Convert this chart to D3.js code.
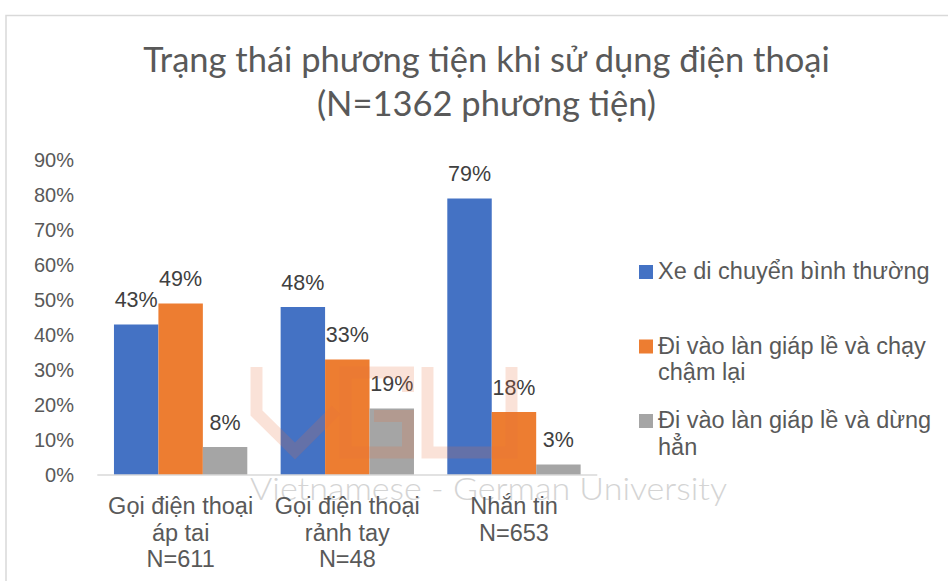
<!DOCTYPE html>
<html>
<head>
<meta charset="utf-8">
<script src="https://cdn.jsdelivr.net/npm/d3@7"></script>
<style>
  html, body { margin: 0; padding: 0; background: #fff; }
  svg { display: block; }
</style>
</head>
<body>
<svg id="chart" width="948" height="581"></svg>
<script>
// ---- data ----
const titleLines = ["Trạng thái phương tiện khi sử dụng điện thoại", "(N=1362 phương tiện)"];
const categories = ["Gọi điện thoại áp tai", "Gọi điện thoại rảnh tay", "Nhắn tin"];
const categoryLabels = [
  ["Gọi điện thoại", "áp tai", "N=611"],
  ["Gọi điện thoại", "rảnh tay", "N=48"],
  ["Nhắn tin", "N=653"]
];
const seriesNames = ["Xe di chuyển bình thường", "Đi vào làn giáp lề và chạy chậm lại", "Đi vào làn giáp lề và dừng hẳn"];
const legendLines = [
  ["Xe di chuyển bình thường"],
  ["Đi vào làn giáp lề và chạy", "chậm lại"],
  ["Đi vào làn giáp lề và dừng", "hẳn"]
];
const seriesXeBinhThuong = [0.43, 0.48, 0.79];
const seriesChayChamLai = [0.49, 0.33, 0.18];
const seriesDungHan = [0.08, 0.19, 0.03];
const yTicks = [0, 0.1, 0.2, 0.3, 0.4, 0.5, 0.6, 0.7, 0.8, 0.9];
const colors = ["#4472C4", "#ED7D31", "#A5A5A5"];
const watermarkText = "Vietnamese - German University";

// ---- layout ----
const svg = d3.select("#chart");
const textColor = "#595959";
const plot = { left: 97.3, right: 597.3, top: 160, bottom: 475 };
const seriesValues = [seriesXeBinhThuong, seriesChayChamLai, seriesDungHan];

// chart border
svg.append("path")
  .attr("d", "M6,581 V15.5 H948")
  .attr("fill", "none").attr("stroke", "#d9d9d9").attr("stroke-width", 1.5);

// title
svg.append("text")
  .attr("x", 486.5).attr("text-anchor", "middle")
  .attr("font-family", "Lato, 'Open Sans', sans-serif")
  .attr("font-size", 34.5).attr("fill", textColor)
  .selectAll("tspan").data(titleLines).join("tspan")
  .attr("x", 486.5).attr("y", (d, i) => 72 + i * 43.5)
  .text(d => d);

const x0 = d3.scaleBand().domain(categories).range([plot.left, plot.right]).padding(0);
const groupInset = x0.bandwidth() * 0.1;
const x1 = d3.scaleBand().domain(d3.range(seriesNames.length))
  .range([groupInset, x0.bandwidth() - groupInset]).padding(0);
const y = d3.scaleLinear().domain([0, 0.9]).range([plot.bottom, plot.top]);

// y axis labels
const yAxis = d3.axisLeft(y).tickValues(yTicks).tickFormat(d3.format(".0%")).tickSize(0).tickPadding(0);
const gy = svg.append("g").attr("transform", "translate(74,0)").call(yAxis);
gy.select(".domain").remove();
gy.selectAll("text")
  .attr("font-family", "'Liberation Sans', Arial, sans-serif")
  .attr("font-size", 20).attr("fill", textColor);

// bars
const groups = svg.append("g").selectAll("g").data(categories).join("g")
  .attr("transform", d => `translate(${x0(d)},0)`);
groups.selectAll("rect")
  .data((c, ci) => seriesValues.map((s, si) => ({ si, v: s[ci] })))
  .join("rect")
  .attr("x", d => x1(d.si))
  .attr("width", x1.bandwidth())
  .attr("y", d => y(d.v))
  .attr("height", d => y(0) - y(d.v))
  .attr("fill", d => colors[d.si]);

// data labels
groups.selectAll("text.lbl")
  .data((c, ci) => seriesValues.map((s, si) => ({ si, v: s[ci] })))
  .join("text").attr("class", "lbl")
  .attr("x", d => x1(d.si) + x1.bandwidth() / 2)
  .attr("y", d => y(d.v) - 17.5)
  .attr("text-anchor", "middle")
  .attr("font-family", "'Liberation Sans', Arial, sans-serif")
  .attr("font-size", 21.5).attr("fill", "#404040")
  .text(d => d3.format(".0%")(d.v));

// baseline
svg.append("line")
  .attr("x1", plot.left).attr("x2", plot.right)
  .attr("y1", y(0)).attr("y2", y(0))
  .attr("stroke", "#d9d9d9").attr("stroke-width", 1.5);

// watermark text
svg.append("text")
  .attr("x", 250).attr("y", 500)
  .attr("font-family", "Lato, 'Open Sans', sans-serif")
  .attr("font-weight", 300)
  .attr("font-size", 31)
  .attr("textLength", 477).attr("lengthAdjust", "spacingAndGlyphs")
  .attr("fill", "#d4d4d4")
  .text(watermarkText);

// category labels
svg.append("g").selectAll("text").data(categories).join("text")
  .attr("text-anchor", "middle")
  .attr("font-family", "'Liberation Sans', Arial, sans-serif")
  .attr("font-size", 23.5).attr("fill", textColor)
  .each(function (d, i) {
    d3.select(this).selectAll("tspan").data(categoryLabels[i]).join("tspan")
      .attr("x", x0(d) + x0.bandwidth() / 2)
      .attr("y", (t, j) => 514 + j * 26.7)
      .text(t => t);
  });

// watermark logo (VGU)
const wm = svg.append("g").attr("fill", "none").attr("stroke", "#E46C3A")
  .attr("stroke-opacity", 0.2).attr("stroke-width", 12).attr("stroke-linejoin", "miter");
wm.append("path").attr("d", "M256.5,367 V413 L295,451 L336,410");
wm.append("path").attr("d", "M408,392 V372.5 H345.5 V452.5 H408 V416 H374");
wm.append("path").attr("d", "M427.5,367 V452.5 H511.5 V367");

// legend
const legend = svg.append("g").selectAll("g").data(seriesNames).join("g")
  .attr("transform", (d, i) => `translate(639,${265 + i * 74.5})`);
legend.append("rect").attr("width", 14).attr("height", 14).attr("fill", (d, i) => colors[i]);
legend.append("text")
  .attr("font-family", "'Liberation Sans', Arial, sans-serif")
  .attr("font-size", 23.5).attr("fill", textColor)
  .each(function (d, i) {
    d3.select(this).selectAll("tspan").data(legendLines[i]).join("tspan")
      .attr("x", 19).attr("y", (t, j) => 14 + j * 26.7)
      .text(t => t);
  });
</script>
</body>
</html>
